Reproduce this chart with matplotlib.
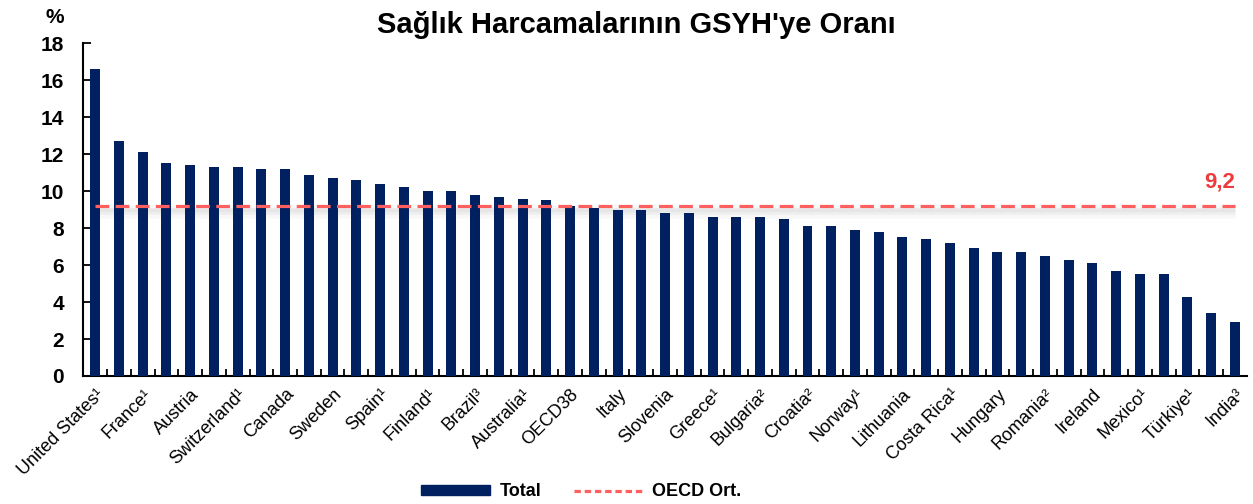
import matplotlib
matplotlib.use('Agg')
import matplotlib.pyplot as plt
import matplotlib.transforms as mtransforms
from matplotlib.patches import Patch
from matplotlib.lines import Line2D

plt.rcParams['font.family'] = ['Liberation Sans', 'DejaVu Sans']

countries = [
    'United States¹', 'Germany', 'France¹', 'Japan', 'Austria', 'United Kingdom',
    'Switzerland¹', 'Netherlands', 'Canada', 'Belgium', 'Sweden', 'New Zealand',
    'Spain¹', 'Portugal', 'Finland¹', 'Denmark', 'Brazil³', 'Iceland',
    'Australia¹', 'Chile', 'OECD38', 'Korea', 'Italy', 'Czechia',
    'Slovenia', 'Argentina', 'Greece¹', 'Israel', 'Bulgaria²', 'Colombia',
    'Croatia²', 'South Africa', 'Norway¹', 'Slovak Republic', 'Lithuania', 'Estonia',
    'Costa Rica¹', 'Latvia', 'Hungary', 'Poland', 'Romania²', 'Luxembourg',
    'Ireland', 'Russia', 'Mexico¹', 'China', 'Türkiye¹', 'Indonesia', 'India³',
]
total = [
    16.6, 12.7, 12.1, 11.5, 11.4, 11.3,
    11.3, 11.2, 11.2, 10.9, 10.7, 10.6,
    10.4, 10.2, 10.0, 10.0, 9.8, 9.7,
    9.6, 9.5, 9.2, 9.1, 9.0, 9.0,
    8.8, 8.8, 8.6, 8.6, 8.6, 8.5,
    8.1, 8.1, 7.9, 7.8, 7.5, 7.4,
    7.2, 6.9, 6.7, 6.7, 6.5, 6.3,
    6.1, 5.7, 5.5, 5.5, 4.3, 3.4, 2.9,
]
oecd_avg = 9.2

navy = '#002060'
red_line = '#FF5F5F'
red_text = '#EE3B3B'

fig = plt.figure(figsize=(12.53, 5.04), dpi=100)
ax = fig.add_axes([0.0665, 0.254, 0.9285, 0.66])

x = list(range(len(countries)))
ax.bar(x, total, width=0.42, color=navy, zorder=3)

# soft shadow under the average line
for off, a, lw in [(-4, 0.05, 9), (-3.5, 0.07, 5), (-3, 0.08, 2.5)]:
    tr = mtransforms.offset_copy(ax.transData, fig=fig, x=0, y=off, units='points')
    ax.plot([x[0], x[-1]], [oecd_avg, oecd_avg], color='gray', alpha=a, lw=lw,
            solid_capstyle='butt', transform=tr, zorder=2)

ax.plot([x[0], x[-1]], [oecd_avg, oecd_avg], color=red_line, lw=2.3,
        dashes=(4.3, 2.0), zorder=4)
ax.annotate('9,2', xy=(x[-1], oecd_avg), xytext=(0, 10), textcoords='offset points',
            ha='right', va='bottom', color=red_text, fontsize=16, fontweight='bold')

ax.set_xlim(-0.5, len(countries) - 0.5)
ax.set_ylim(0, 18)
ax.set_yticks(range(0, 19, 2))
ax.tick_params(axis='y', direction='in', length=6, width=1.3, labelsize=15, pad=14)
for lbl in ax.get_yticklabels():
    lbl.set_fontweight('bold')

ax.set_xticks(x[::2])
ax.set_xticklabels(countries[::2], rotation=45, ha='right', rotation_mode='anchor',
                   fontsize=13)
ax.tick_params(axis='x', length=0, pad=7)
ax.set_xticks([i + 0.5 for i in x[:-1]], minor=True)
ax.tick_params(axis='x', which='minor', direction='in', length=5, width=1.3)

for s in ['top', 'right']:
    ax.spines[s].set_visible(False)
for s in ['left', 'bottom']:
    ax.spines[s].set_linewidth(1.5)

fig.text(0.508, 0.951, "Sağlık Harcamalarının GSYH'ye Oranı", ha='center', va='center',
         fontsize=21, fontweight='bold')
fig.text(0.044, 0.966, '%', ha='center', va='center', fontsize=15, fontweight='bold')

handles = [Patch(facecolor=navy, edgecolor=navy),
           Line2D([0], [0], color=red_line, lw=2.3, dashes=(2.0, 1.2))]
fig.legend(handles, ['Total', 'OECD Ort.'], loc='center', bbox_to_anchor=(0.464, 0.024),
           ncol=2, frameon=False, handlelength=3.8, handleheight=0.45,
           handletextpad=0.55, columnspacing=1.8, prop={'size': 13, 'weight': 'bold'})

fig.savefig('out.png', dpi=100)
